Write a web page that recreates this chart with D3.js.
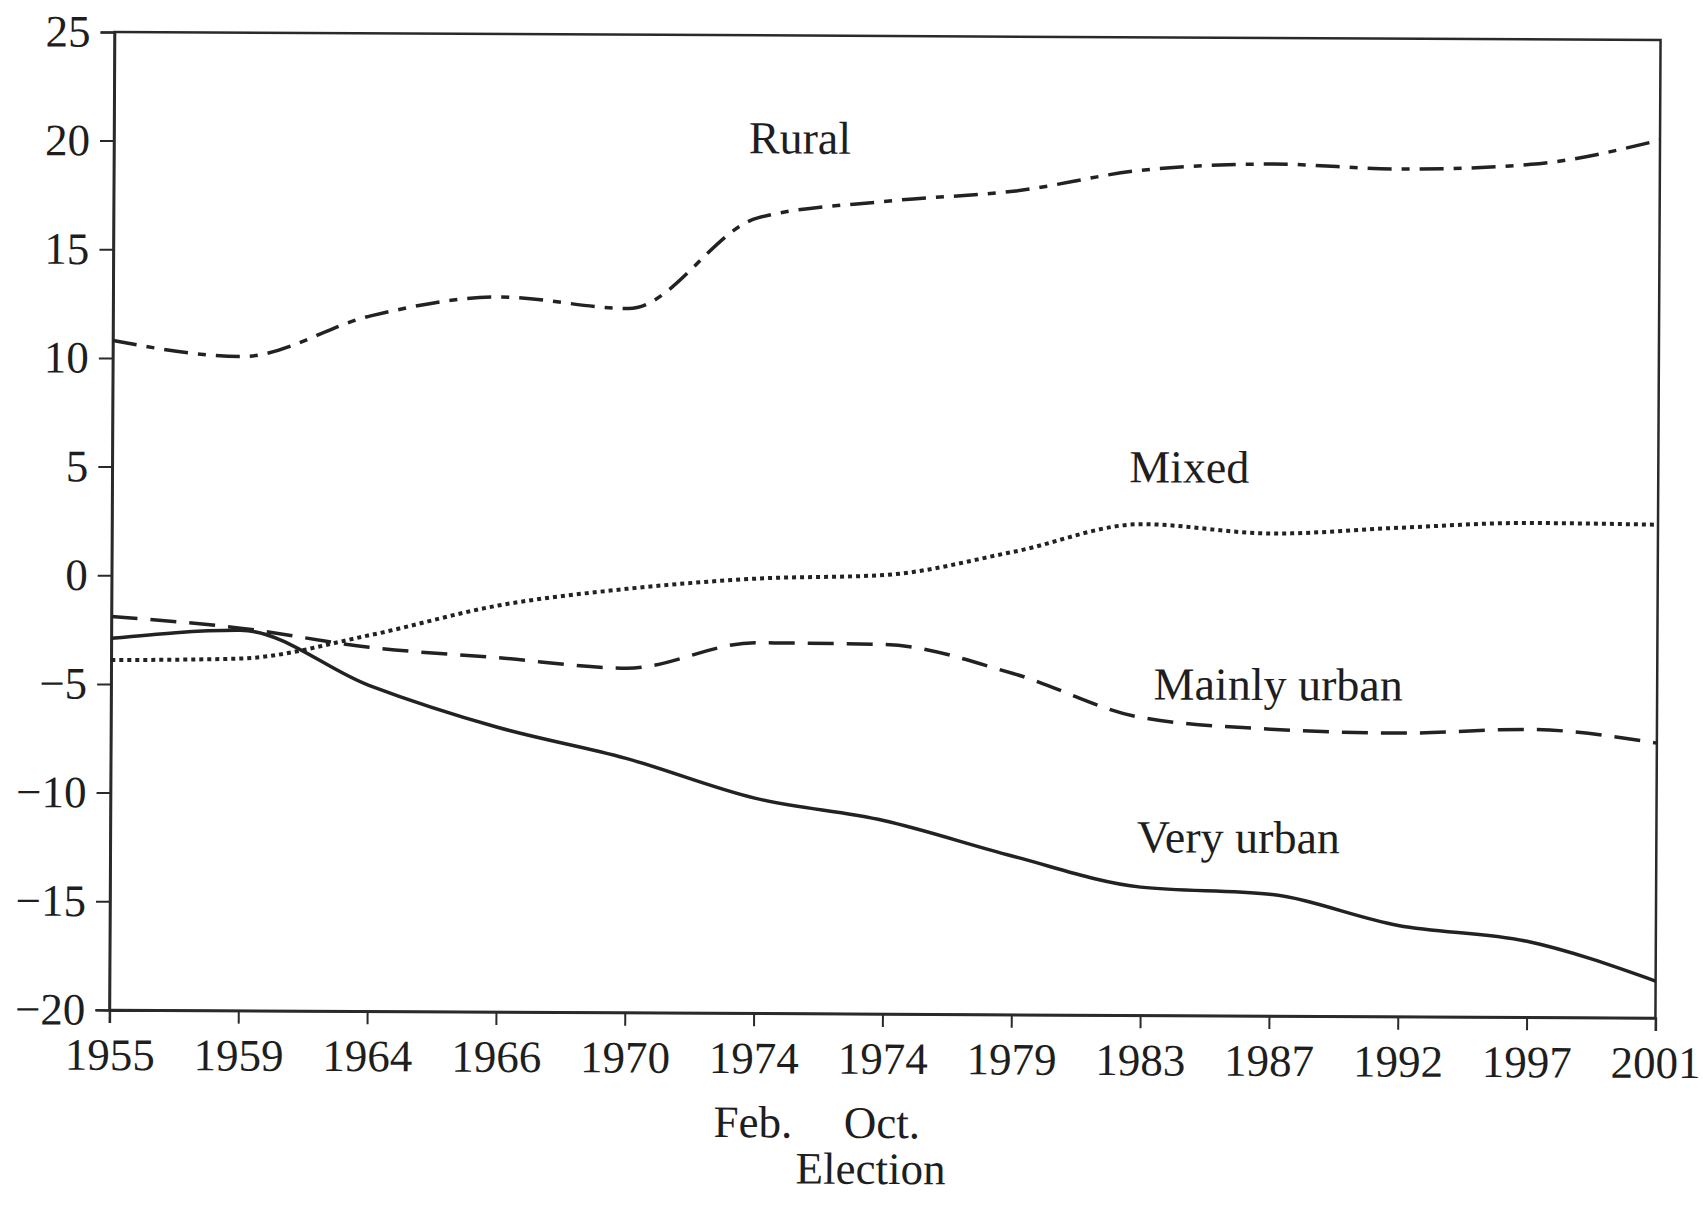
<!DOCTYPE html>
<html><head><meta charset="utf-8">
<script src="https://cdn.jsdelivr.net/npm/d3@7"></script>
<style>
body{margin:0;background:#fff}
svg{display:block}
text{font-family:"Liberation Serif","Times New Roman",serif;fill:#1e1e1e}
</style>
</head><body>
<svg id="chart" width="1703" height="1216"></svg>
<script>
// ---- data ----
const elections = ["1955","1959","1964","1966","1970","1974F","1974O","1979","1983","1987","1992","1997","2001"];
const tickLabels = ["1955","1959","1964","1966","1970","1974","1974","1979","1983","1987","1992","1997","2001"];
const subLabels = {"1974F":"Feb.","1974O":"Oct."};
const yTicks = [-20,-15,-10,-5,0,5,10,15,20,25];
const rural       = [10.8, 10.1, 12.0, 12.9, 12.4, 16.6, 17.4, 17.9, 18.9, 19.2, 19.0, 19.25, 20.4];
const mixed       = [-3.9, -3.8, -2.7, -1.3, -0.5, 0.0, 0.2, 1.3, 2.6, 2.2, 2.5, 2.75, 2.7];
const mainlyUrban = [-1.9, -2.4, -3.25, -3.7, -4.15, -2.95, -3.0, -4.3, -6.3, -6.8, -6.95, -6.75, -7.35];
const veryUrban   = [-2.9, -2.5, -5.0, -6.9, -8.3, -10.1, -11.1, -12.7, -14.1, -14.4, -15.8, -16.5, -18.3];
const seriesNames = ["Rural","Mixed","Mainly urban","Very urban"];
const xTitle = "Election";

// ---- layout ----
const L = 112, R = 1658, T = 36, B = 1014;
const svg = d3.select("#chart");
svg.append("rect").attr("width",1703).attr("height",1216).attr("fill","#fff");
const g = svg.append("g").attr("transform","rotate(0.3 885 525)");

const x = d3.scalePoint().domain(elections).range([L, R]);
const y = d3.scaleLinear().domain([-20, 25]).range([B, T]);

// frame
g.append("rect").attr("x",L).attr("y",T).attr("width",R-L).attr("height",B-T)
  .attr("fill","none").attr("stroke","#2a2a2a").attr("stroke-width",2.5);

// y axis
const ya = g.append("g").attr("transform",`translate(${L},0)`)
  .call(d3.axisLeft(y).tickValues(yTicks).tickSize(14).tickPadding(10));
ya.select(".domain").attr("stroke","#2a2a2a").attr("stroke-width",2.5);
ya.selectAll(".tick line").attr("stroke","#2a2a2a").attr("stroke-width",2);
ya.selectAll(".tick text").attr("font-size",45).style("font-family","Liberation Serif");

// x axis
const xa = g.append("g").attr("transform",`translate(0,${B})`)
  .call(d3.axisBottom(x).tickFormat((d,i)=>tickLabels[i]).tickSize(13).tickPadding(15));
xa.select(".domain").attr("stroke","#2a2a2a").attr("stroke-width",2.5);
xa.selectAll(".tick line").attr("stroke","#2a2a2a").attr("stroke-width",2);
xa.selectAll(".tick text").attr("font-size",45).style("font-family","Liberation Serif");

// sub labels Feb./Oct.
g.selectAll("text.sub").data(Object.keys(subLabels)).enter().append("text")
  .attr("class","sub").attr("x",d=>x(d)).attr("y",B+124)
  .attr("text-anchor","middle").attr("font-size",45).text(d=>subLabels[d]);

// axis title
g.append("text").attr("x",874).attr("y",B+170).attr("text-anchor","middle")
  .attr("font-size",45).text(xTitle);

// lines
const line = d3.line().x((d,i)=>x(elections[i])).y(d=>y(d)).curve(d3.curveMonotoneX);
const series = [
  {name:seriesNames[0], values:rural, dash:"24,10,8,10", w:3.5, lx:798, ly:154},
  {name:seriesNames[1], values:mixed, dash:"4,4", w:4, lx:1189, ly:481},
  {name:seriesNames[2], values:mainlyUrban, dash:"26,13", w:3.5, lx:1279, ly:698},
  {name:seriesNames[3], values:veryUrban, dash:null, w:3.5, lx:1240, ly:851}
];
g.selectAll("path.series").data(series).enter().append("path")
  .attr("class","series")
  .attr("d",d=>line(d.values))
  .attr("fill","none").attr("stroke","#222").attr("stroke-width",d=>d.w)
  .attr("stroke-dasharray",d=>d.dash);

g.selectAll("text.lbl").data(series).enter().append("text")
  .attr("class","lbl").attr("x",d=>d.lx).attr("y",d=>d.ly)
  .attr("text-anchor","middle").attr("font-size",46).text(d=>d.name);
</script>
</body></html>
